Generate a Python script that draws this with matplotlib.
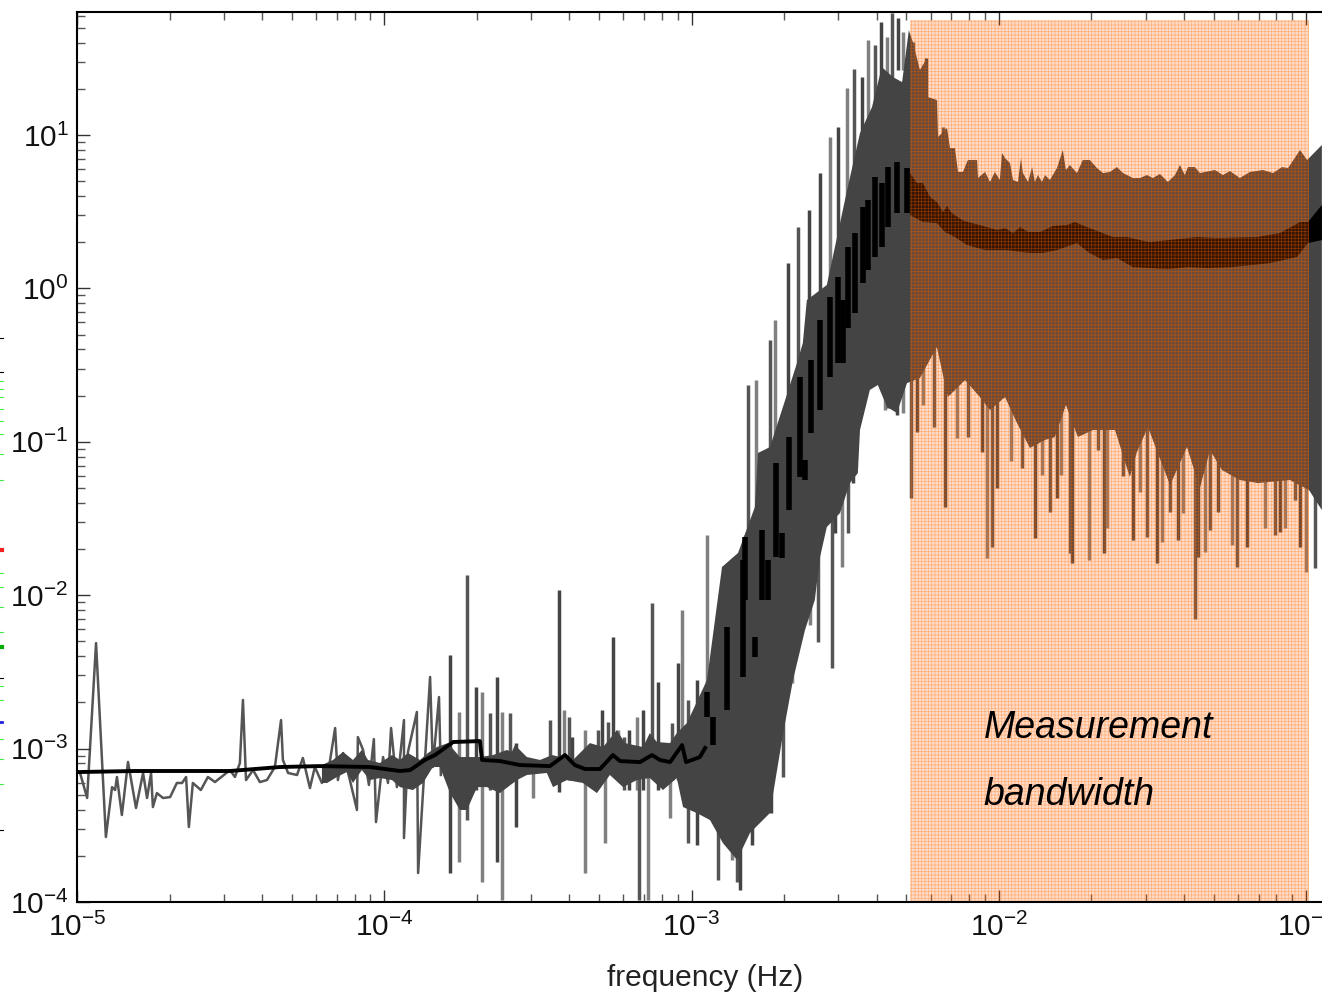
import numpy as np
import matplotlib
matplotlib.use('Agg')
import matplotlib.pyplot as plt
from matplotlib.lines import Line2D
from matplotlib.ticker import LogLocator

plt.rcParams['font.family'] = ['Liberation Sans', 'DejaVu Sans']
plt.rcParams['mathtext.fontset'] = 'custom'
plt.rcParams['mathtext.rm'] = 'Liberation Sans'
plt.rcParams['mathtext.it'] = 'Liberation Sans:italic'
plt.rcParams['hatch.linewidth'] = 0.5

# all values, as log10(frequency) and log10(power)
# raw spectrum at low frequency
noise_f = [-5.000, -4.990, -4.967, -4.938, -4.906, -4.886, -4.876, -4.870, -4.854, -4.834, -4.808, -4.785, -4.772,
           -4.759, -4.753, -4.740, -4.720, -4.697, -4.675, -4.658, -4.645, -4.636, -4.623, -4.597, -4.574, -4.551,
           -4.502, -4.486, -4.470, -4.460, -4.450, -4.427, -4.405, -4.382, -4.356, -4.336, -4.330, -4.313, -4.284,
           -4.265, -4.242, -4.226, -4.203, -4.183, -4.160, -4.151, -4.134, -4.112, -4.089, -4.086, -4.069, -4.050,
           -4.034, -4.027, -4.004, -3.988, -3.978, -3.959, -3.936, -3.936, -3.923, -3.894, -3.890, -3.877, -3.851,
           -3.842, -3.822, -3.816]
noise_p = [-3.153, -3.159, -3.322, -2.312, -3.576, -3.251, -3.270, -3.185, -3.433, -3.087, -3.387, -3.159, -3.322,
           -3.159, -3.381, -3.290, -3.322, -3.316, -3.224, -3.224, -3.185, -3.511, -3.224, -3.270, -3.185, -3.218,
           -3.140, -3.185, -3.094, -2.683, -3.205, -3.140, -3.218, -3.205, -3.120, -2.814, -3.074, -3.159, -3.172,
           -3.061, -3.257, -3.120, -3.224, -3.159, -2.866, -3.205, -3.029, -3.205, -3.400, -2.925, -3.009, -3.237,
           -2.938, -3.479, -3.055, -3.224, -2.866, -3.251, -2.814, -3.583, -3.022, -2.761, -3.811, -3.381, -2.533,
           -3.120, -2.664, -3.172]

# solid part of the raw spectrum, top edge
top_f = [-4.203, -4.167, -4.134, -4.102, -4.073, -4.053, -4.014, -3.975, -3.949, -3.923, -3.884, -3.858, -3.829,
         -3.793, -3.754, -3.689, -3.646, -3.601, -3.585, -3.575, -3.536, -3.493, -3.454, -3.386, -3.331, -3.288,
         -3.243, -3.217, -3.158, -3.136, -3.113, -3.070, -3.048, -3.015, -2.950, -2.901, -2.849, -2.794, -2.784,
         -2.745, -2.706, -2.657, -2.638, -2.625, -2.560, -2.494, -2.452, -2.413, -2.381, -2.345, -2.315, -2.293,
         -2.280, -2.257, -2.234, -2.231, -2.202, -2.198, -2.169, -2.159, -2.143, -2.133, -2.117, -2.101, -2.071,
         -2.068, -2.045, -2.029, -2.013, -1.997, -1.990, -1.980, -1.964, -1.954, -1.938, -1.928, -1.922, -1.905,
         -1.892, -1.883, -1.873, -1.860, -1.850, -1.834, -1.811, -1.792, -1.782, -1.769, -1.746, -1.727, -1.704,
         -1.681, -1.661, -1.639, -1.616, -1.596, -1.564, -1.541, -1.518, -1.499, -1.476, -1.450, -1.427, -1.411,
         -1.395, -1.385, -1.362, -1.346, -1.297, -1.271, -1.248, -1.216, -1.183, -1.141, -1.108, -1.079, -1.059,
         -1.020, -0.997, -0.949]
top_p = [-3.107, -3.074, -3.022, -3.074, -3.009, -3.074, -3.094, -3.042, -3.074, -3.029, -3.074, -3.029, -2.990,
         -2.964, -3.055, -3.055, -3.042, -3.009, -3.022, -2.977, -3.055, -3.074, -3.042, -3.074, -2.964, -2.990,
         -2.879, -2.964, -2.990, -2.899, -2.957, -2.964, -2.899, -2.833, -2.553, -1.816, -1.725, -1.425, -1.073,
         -1.034, -0.793, -0.486, -0.356, -0.076, 0.022, 0.641, 1.013, 1.182, 1.443, 1.378, 1.345, 1.684,
         1.606, 1.424, 1.502, 1.248, 1.228, 0.987, 1.046, 0.915, 0.915, 0.759, 0.759, 0.837, 0.837,
         0.720, 0.759, 0.694, 0.759, 0.707, 0.883, 0.850, 0.817, 0.707, 0.694, 0.850, 0.752, 0.694,
         0.791, 0.694, 0.739, 0.694, 0.739, 0.707, 0.785, 0.902, 0.772, 0.804, 0.752, 0.837, 0.837,
         0.785, 0.752, 0.759, 0.791, 0.752, 0.720, 0.720, 0.739, 0.720, 0.746, 0.694, 0.739, 0.804,
         0.739, 0.791, 0.791, 0.752, 0.772, 0.739, 0.765, 0.720, 0.759, 0.772, 0.752, 0.791, 0.785,
         0.902, 0.837, 0.935]

# and its bottom edge
bottom_f = [-4.203, -4.186, -4.154, -4.122, -4.102, -4.073, -4.047, -4.014, -3.975, -3.949, -3.907, -3.874, -3.842,
            -3.819, -3.786, -3.754, -3.731, -3.698, -3.666, -3.624, -3.568, -3.536, -3.471, -3.451, -3.406, -3.354,
            -3.308, -3.266, -3.223, -3.178, -3.136, -3.093, -3.048, -3.028, -2.983, -2.940, -2.898, -2.852, -2.810,
            -2.745, -2.703, -2.670, -2.631, -2.599, -2.582, -2.560, -2.517, -2.485, -2.459, -2.452, -2.420, -2.394,
            -2.364, -2.332, -2.299, -2.257, -2.202, -2.166, -2.110, -2.062, -2.029, -1.980, -1.941, -1.899, -1.850,
            -1.818, -1.782, -1.743, -1.694, -1.622, -1.574, -1.551, -1.515, -1.443, -1.388, -1.346, -1.313, -1.274,
            -1.216, -1.157, -1.053, -0.991, -0.949]
bottom_p = [-3.224, -3.224, -3.185, -3.153, -3.224, -3.140, -3.205, -3.192, -3.205, -3.251, -3.270, -3.224, -3.120,
            -3.120, -3.290, -3.400, -3.400, -3.251, -3.251, -3.290, -3.205, -3.172, -3.159, -3.251, -3.205, -3.224,
            -3.290, -3.172, -3.251, -3.205, -3.192, -3.270, -3.192, -3.381, -3.420, -3.466, -3.616, -3.726, -3.550,
            -3.420, -2.911, -2.553, -2.227, -2.031, -1.751, -1.556, -1.464, -1.269, -1.204, -0.923, -0.662, -0.630,
            -0.773, -0.812, -0.617, -0.584, -0.382, -0.708, -0.597, -0.708, -0.793, -0.708, -0.878, -1.040, -0.988,
            -0.969, -0.760, -0.969, -0.923, -0.923, -1.230, -1.067, -0.904, -1.282, -1.034, -1.301, -1.054, -1.184,
            -1.249, -1.269, -1.249, -1.314, -1.445]

# spikes, each with its top and bottom end
spike_f = [-3.786, -3.757, -3.731, -3.702, -3.682, -3.656, -3.633, -3.617, -3.591, -3.572, -3.516, -3.461, -3.432,
           -3.415, -3.399, -3.389, -3.347, -3.305, -3.292, -3.282, -3.272, -3.256, -3.240, -3.220, -3.204, -3.178,
           -3.171, -3.158, -3.142, -3.129, -3.109, -3.070, -3.064, -3.044, -3.031, -3.012, -2.983, -2.950, -2.914,
           -2.892, -2.869, -2.852, -2.843, -2.826, -2.817, -2.804, -2.791, -2.745, -2.742, -2.729, -2.703, -2.687,
           -2.673, -2.654, -2.618, -2.615, -2.589, -2.582, -2.550, -2.543, -2.524, -2.494, -2.472, -2.446, -2.426,
           -2.403, -2.384, -2.364, -2.348, -2.328, -2.312, -2.280, -2.237, -2.208, -2.182]
spike_hi = [-2.390, -2.761, -1.868, -2.599, -2.631, -2.768, -2.533, -2.761, -2.768, -2.964, -3.107, -2.814, -1.966,
            -2.749, -2.794, -2.925, -2.879, -2.879, -2.749, -3.074, -2.827, -2.273, -2.879, -2.925, -2.879, -2.794,
            -3.074, -2.749, -3.074, -2.051, -2.566, -3.074, -2.833, -2.442, -2.097, -2.683, -2.553, -1.608, -2.683,
            -1.966, -1.868, -2.683, -2.683, -1.608, -0.630, -2.683, -0.597, -0.337, -2.683, -0.206, -2.031, 0.166,
            -1.380, 0.400, 0.511, -1.249, -1.380, 0.752, 0.987, -1.380, 1.052, 1.306, 1.430, 1.378, 1.619,
            1.587, 1.737, 1.639, 1.795, 1.763, 1.671, 1.606, 1.502, 1.228, 1.052]
spike_lo = [-3.811, -3.739, -3.466, -3.270, -3.870, -3.270, -3.739, -3.987, -3.205, -3.511, -3.322, -3.140, -3.283,
            -3.205, -3.205, -3.205, -3.811, -3.205, -3.205, -3.616, -3.140, -3.140, -3.205, -3.270, -3.270, -3.270,
            -3.987, -3.270, -3.987, -3.140, -3.270, -3.452, -3.205, -3.205, -3.140, -3.616, -3.629, -3.335, -3.857,
            -3.335, -3.726, -3.870, -3.922, -3.335, -1.771, -3.629, -1.640, -1.380, -3.420, -1.249, -3.185, -0.988,
            -2.572, -0.728, -0.402, -2.194, -2.305, -0.076, -0.076, -2.475, 0.120, 0.446, 0.576, 0.641, 0.902,
            1.033, 1.163, 1.358, 1.163, 1.424, 1.424, 1.228, 1.098, 0.902, 0.837]

# downward spikes from the solid part
dip_f = [-2.533, -2.511, -2.491, -2.475, -2.371, -2.361, -2.332, -2.312,
         -2.286, -2.267, -2.247, -2.211, -2.176, -2.137, -2.101, -2.055, -2.039, -2.023, -2.006, -1.961, -1.925,
         -1.883, -1.860, -1.834, -1.811, -1.798, -1.769, -1.762, -1.707, -1.678, -1.658, -1.648, -1.596, -1.564,
         -1.541, -1.518, -1.486, -1.469, -1.443, -1.417, -1.401, -1.362, -1.352, -1.330, -1.313, -1.287, -1.242,
         -1.225, -1.193, -1.134, -1.102, -1.085, -1.069, -1.037, -1.020, -1.001, -0.972]
dip_lo = [-1.595, -1.816, -1.595, -1.269, -0.793, -0.780, -0.825, -0.812,
          -1.366, -0.936, -0.760, -0.904, -1.425, -0.975, -0.969, -1.067, -1.758, -1.686, -1.301, -1.125, -1.171,
          -1.627, -1.217, -1.458, -1.366, -1.217, -1.725, -1.790, -1.771, -1.054, -1.725, -1.562, -1.223, -1.640,
          -1.327, -1.621, -1.790, -1.653, -1.458, -1.640, -1.464, -2.155, -1.751, -1.718, -1.575, -1.458, -1.673,
          -1.816, -1.686, -1.562, -1.608, -1.588, -1.562, -1.380, -1.686, -1.849, -1.823]
dip_top = 0.0

# smoothed spectrum: thin line, then streaks on the rise, then the wide part
smooth_f = [-5.000, -4.811, -4.502, -4.339, -4.209, -4.047, -3.949, -3.916, -3.868, -3.835, -3.776, -3.689, -3.682,
            -3.624, -3.559, -3.461, -3.412, -3.380, -3.347, -3.298, -3.256, -3.233, -3.168, -3.129, -3.103, -3.070,
            -3.031, -3.018, -2.973, -2.956]
smooth_p = [-3.153, -3.146, -3.146, -3.120, -3.114, -3.120, -3.146, -3.140, -3.074, -3.042, -2.957, -2.951, -3.074,
            -3.081, -3.107, -3.114, -3.042, -3.107, -3.133, -3.133, -3.042, -3.081, -3.088, -3.042, -3.074, -3.088,
            -2.977, -3.088, -3.055, -2.996]
streak_f = [-2.950, -2.931, -2.885, -2.833, -2.826, -2.794, -2.771, -2.751, -2.725, -2.706, -2.683, -2.647, -2.631,
            -2.612, -2.582, -2.550, -2.524, -2.507, -2.491, -2.468, -2.442, -2.426, -2.403, -2.381, -2.361, -2.332,
            -2.299]
streak_hi = [-2.631, -2.794, -2.207, -1.771, -1.621, -2.273, -1.575, -1.771, -1.138, -1.595, -0.969, -0.578, -1.119,
             -0.467, -0.206, -0.056, 0.074, -0.076, 0.270, 0.361, 0.531, 0.576, 0.726, 0.687, 0.791, 0.824,
             0.785]
streak_lo = [-2.794, -2.977, -2.749, -2.533, -2.031, -2.403, -2.031, -2.031, -1.751, -1.758, -1.445, -1.230, -1.249,
             -0.943, -0.793, -0.578, -0.486, -0.486, -0.258, -0.160, 0.035, 0.120, 0.205, 0.270, 0.400, 0.491,
             0.491]
wide_top_f = [-2.289, -2.267, -2.247, -2.224, -2.202, -2.182, -2.169, -2.153, -2.120, -2.101, -2.062, -2.006, -1.980,
              -1.954, -1.931, -1.905, -1.866, -1.824, -1.779, -1.753, -1.714, -1.671, -1.629, -1.583, -1.541, -1.509,
              -1.355, -1.291, -1.160, -1.085, -1.020, -0.994, -0.949]
wide_top_p = [0.752, 0.687, 0.687, 0.596, 0.563, 0.498, 0.537, 0.491, 0.446, 0.433, 0.413, 0.381, 0.394,
              0.361, 0.400, 0.368, 0.368, 0.407, 0.413, 0.433, 0.400, 0.368, 0.335, 0.335, 0.315, 0.302,
              0.335, 0.328, 0.335, 0.361, 0.433, 0.433, 0.544]
wide_bottom_f = [-2.289, -2.247, -2.202, -2.176, -2.143, -2.104, -2.045, -1.974, -1.899, -1.857, -1.811, -1.746,
                 -1.710, -1.661, -1.616, -1.564, -1.450, -1.385, -1.320, -1.242, -1.118, -1.030, -0.994, -0.949]
wide_bottom_p = [0.478, 0.433, 0.426, 0.368, 0.335, 0.283, 0.250, 0.250, 0.231, 0.231, 0.250, 0.296,
                 0.237, 0.185, 0.198, 0.139, 0.126, 0.139, 0.133, 0.139, 0.165, 0.205, 0.296, 0.315]

span_f = [-2.289, -0.991]
span_top = 1.750

fig = plt.figure(figsize=(13.22, 9.92), dpi=100)
# right edge of the axes is cut off by the image
ax = fig.add_axes([77 / 1322, 90 / 992, (1340 - 77) / 1322, 890 / 992])

ax.set_xscale('log')
ax.set_yscale('log')


def outline(f1, p1, f2, p2):
    # closed shape from a top edge and a bottom edge
    return 10.0 ** np.concatenate([f1, f2[::-1]]), 10.0 ** np.concatenate([p1, p2[::-1]])


greys = ['#444444', '#808080', '#555555']
ax.plot(10.0 ** np.array(noise_f), 10.0 ** np.array(noise_p), color='#555555', lw=1.8, zorder=1)
ax.vlines(10.0 ** np.array(spike_f), 10.0 ** np.array(spike_lo), 10.0 ** np.array(spike_hi),
          colors=greys, lw=2.5, zorder=1)
ax.vlines(10.0 ** np.array(dip_f), 10.0 ** np.array(dip_lo), 10.0 ** dip_top,
          colors=greys, lw=2.5, zorder=1)

xs, ys = outline(top_f, top_p, bottom_f, bottom_p)
ax.fill(xs, ys, color='#444444', lw=0, zorder=2)

ax.plot(10.0 ** np.array(smooth_f), 10.0 ** np.array(smooth_p), color='black', lw=2.8, zorder=3)
ax.vlines(10.0 ** np.array(streak_f), 10.0 ** np.array(streak_lo), 10.0 ** np.array(streak_hi),
          color='black', lw=4.0, zorder=3)
xs, ys = outline(wide_top_f, wide_top_p, wide_bottom_f, wide_bottom_p)
ax.fill(xs, ys, color='black', lw=0, zorder=3)

# hatched orange block
ax.fill_between(10.0 ** np.array(span_f), 1e-4, 10.0 ** span_top,
                facecolor=(1, 0.36, 0, 0.22), edgecolor=(1, 0.42, 0, 0.38),
                hatch='+++++', lw=0, zorder=4)

ax.text(10.0 ** -2.049, 10.0 ** -2.931, 'Measurement', style='italic', fontsize=27, color='black', zorder=5)
ax.text(10.0 ** -2.049, 10.0 ** -3.368, 'bandwidth', style='italic', fontsize=27, color='black', zorder=5)

ax.set_xlim(1e-5, 10.0 ** -0.890)
ax.set_ylim(1e-4, 10.0 ** 1.802)

ax.xaxis.set_major_locator(LogLocator(base=10, numticks=10))
ax.yaxis.set_major_locator(LogLocator(base=10, numticks=10))
ax.xaxis.set_minor_locator(LogLocator(base=10, subs=np.arange(2, 10), numticks=10))
ax.yaxis.set_minor_locator(LogLocator(base=10, subs=np.arange(2, 10), numticks=10))
ax.tick_params(which='major', direction='in', length=9, width=1.0, color='#333333', top=True, right=True,
               labelsize=21.5, pad=6, labelcolor='#111111')
ax.tick_params(which='minor', direction='in', length=6, width=1.0, color='#555555', top=True, right=True)
ax.xaxis.set_tick_params(which='major', pad=8)

for side in ax.spines.values():
    side.set_linewidth(1.5)
    side.set_color('black')
    side.set_zorder(6)

fig.text(705 / 1322, 1 - 978 / 992, 'frequency (Hz)', fontsize=21.5, color='#222222', ha='center', va='center')

# bits of the neighbouring figure left on the crop edge
green_y = [381, 389, 397, 409, 421, 434, 454, 480, 573, 587, 607, 632, 686, 700, 739, 759, 784]
black_y = [338, 372, 678, 830]
for y in green_y:
    fig.add_artist(Line2D([0, 3 / 1322], [1 - y / 992] * 2, color='#44ee44', lw=0.8))
for y in black_y:
    fig.add_artist(Line2D([0, 3 / 1322], [1 - y / 992] * 2, color='black', lw=0.8))
fig.add_artist(Line2D([0, 2 / 1322], [1 - 647 / 992] * 2, color='#00aa00', lw=3))
fig.add_artist(Line2D([0, 2 / 1322], [1 - 550 / 992] * 2, color='#ee2222', lw=3))
fig.add_artist(Line2D([0, 2 / 1322], [1 - 722 / 992] * 2, color='#2222dd', lw=2))

fig.savefig('out.png', dpi=100)
